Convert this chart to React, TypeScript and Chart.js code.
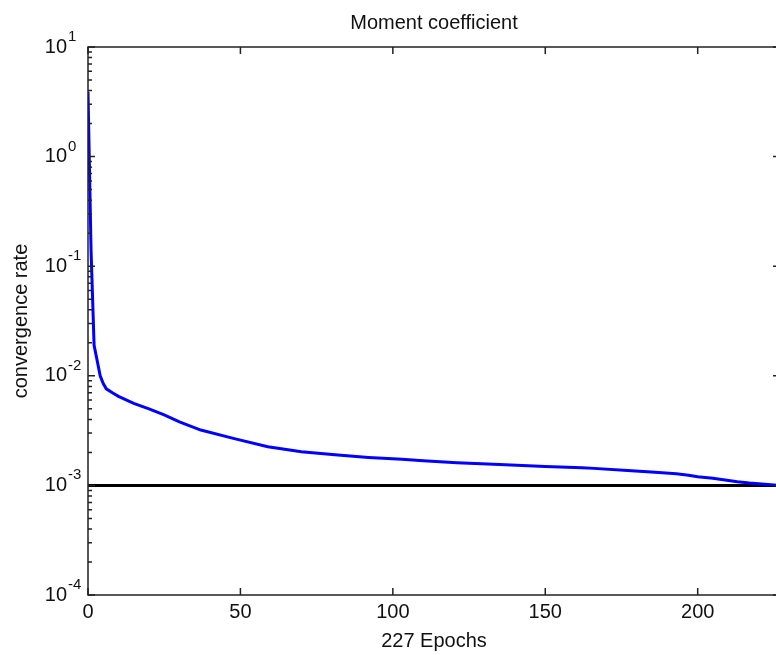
import React, { useEffect, useRef } from 'react';
import { Chart, registerables } from 'chart.js';

Chart.register(...registerables);

// ---- data ----
const titleText = 'Moment coefficient';
const xTitle = '227 Epochs';
const yTitle = 'convergence rate';

const epochs = [0, 1, 2, 3, 4, 5, 6, 8, 10, 15, 20, 25, 30, 37, 48, 59, 70, 81, 92, 103, 110, 121, 135, 150, 162, 166, 177, 186, 193, 197, 200, 205, 209, 213, 217, 223, 227];
const rate = [3.9, 0.14, 0.019, 0.0138, 0.01, 0.0085, 0.0076, 0.007, 0.0065, 0.0056, 0.005, 0.0044, 0.0038, 0.0032, 0.00267, 0.00225, 0.00203, 0.0019, 0.0018, 0.00173, 0.00168, 0.00161, 0.00155, 0.00149, 0.00145, 0.00143, 0.00137, 0.00132, 0.00128, 0.00124, 0.0012, 0.00116, 0.00112, 0.00108, 0.00105, 0.00102, 0.001];

const goalEpochs = [0, 227];
const goal = 0.001;

const xTicks = [0, 50, 100, 150, 200];
const yExponents = [-4, -3, -2, -1, 0, 1];
const yBaseLabel = '10';

const xMin = 0;
const xMax = 227;
const yMin = 1e-4;
const yMax = 10;

const FONT = '"Liberation Sans", Arial, Helvetica, sans-serif';
const TEXT = '#111';
const AXIS = '#222';

const axesPlugin = {
  id: 'matlabAxes',
  afterDatasetsDraw(chart: any) {
    const { ctx, chartArea: a, scales } = chart;
    const xs = scales.x;
    const ys = scales.y;
    ctx.save();
    ctx.strokeStyle = AXIS;
    ctx.lineWidth = 1.5;
    ctx.strokeRect(a.left, a.top, a.right - a.left, a.bottom - a.top);
    ctx.beginPath();
    for (const v of xTicks) {
      const px = xs.getPixelForValue(v);
      ctx.moveTo(px, a.bottom);
      ctx.lineTo(px, a.bottom - 7);
      ctx.moveTo(px, a.top);
      ctx.lineTo(px, a.top + 7);
    }
    for (const e of yExponents) {
      for (let m = 1; m <= 9; m++) {
        const v = m * Math.pow(10, e);
        if (v > yMax * 1.0001) break;
        const py = ys.getPixelForValue(v);
        const len = m === 1 ? 7 : 4;
        ctx.moveTo(a.left, py);
        ctx.lineTo(a.left + len, py);
        ctx.moveTo(a.right, py);
        ctx.lineTo(a.right - len, py);
      }
    }
    ctx.stroke();

    // y tick labels: 10 with superscript exponent
    ctx.fillStyle = TEXT;
    for (const e of yExponents) {
      const py = ys.getPixelForValue(Math.pow(10, e));
      ctx.font = `20px ${FONT}`;
      ctx.textAlign = 'right';
      ctx.textBaseline = 'middle';
      ctx.fillText(yBaseLabel, a.left - 21, py);
      ctx.font = `15px ${FONT}`;
      ctx.textAlign = 'left';
      ctx.textBaseline = 'alphabetic';
      ctx.fillText(String(e), a.left - 20, py - 6);
    }
    ctx.restore();
  },
};

export default function App() {
  const ref = useRef<HTMLCanvasElement>(null);

  useEffect(() => {
    const chart = new Chart(ref.current as HTMLCanvasElement, {
      type: 'line',
      data: {
        datasets: [
          {
            label: 'Training',
            data: epochs.map((e, i) => ({ x: e, y: rate[i] })),
            borderColor: '#0000ff',
            backgroundColor: '#0000ff',
            borderWidth: 3,
            pointRadius: 0,
            tension: 0,
          },
          {
            label: 'Goal',
            data: goalEpochs.map((e) => ({ x: e, y: goal })),
            borderColor: '#000000',
            backgroundColor: '#000000',
            borderWidth: 3,
            pointRadius: 0,
            tension: 0,
          },
        ],
      } as any,
      options: {
        responsive: false,
        animation: false,
        devicePixelRatio: 1,
        layout: { padding: { left: 0, right: 10, top: 0, bottom: 0 } },
        plugins: {
          legend: { display: false },
          tooltip: { enabled: false },
          title: {
            display: true,
            text: titleText,
            fullSize: false,
            color: TEXT,
            font: { family: FONT, size: 20, weight: 'normal' },
            padding: { top: 11, bottom: 12 },
          },
        },
        scales: {
          x: {
            type: 'linear',
            min: xMin,
            max: xMax,
            grid: { display: false, drawTicks: false },
            border: { display: false },
            afterBuildTicks: (axis: any) => {
              axis.ticks = xTicks.map((v) => ({ value: v }));
            },
            ticks: {
              autoSkip: false,
              maxRotation: 0,
              minRotation: 0,
              padding: 5,
              color: TEXT,
              font: { family: FONT, size: 20 },
              callback: (v: any) => String(v),
            },
            title: {
              display: true,
              text: xTitle,
              color: TEXT,
              font: { family: FONT, size: 20 },
              padding: { top: 0, bottom: 2 },
            },
          },
          y: {
            type: 'logarithmic',
            min: yMin,
            max: yMax,
            grid: { display: false, drawTicks: false },
            border: { display: false },
            ticks: { display: false },
            title: {
              display: true,
              text: yTitle,
              color: TEXT,
              font: { family: FONT, size: 20 },
              padding: { top: 9.5, bottom: 54.5 },
            },
          },
        },
      } as any,
      plugins: [axesPlugin],
    });
    return () => chart.destroy();
  }, []);

  return (
    <div
      style={{
        position: 'fixed',
        left: 0,
        top: 0,
        width: 776,
        height: 655,
        overflow: 'hidden',
        background: '#ffffff',
      }}
    >
      <canvas ref={ref} width={790} height={655} style={{ display: 'block' }} />
    </div>
  );
}
